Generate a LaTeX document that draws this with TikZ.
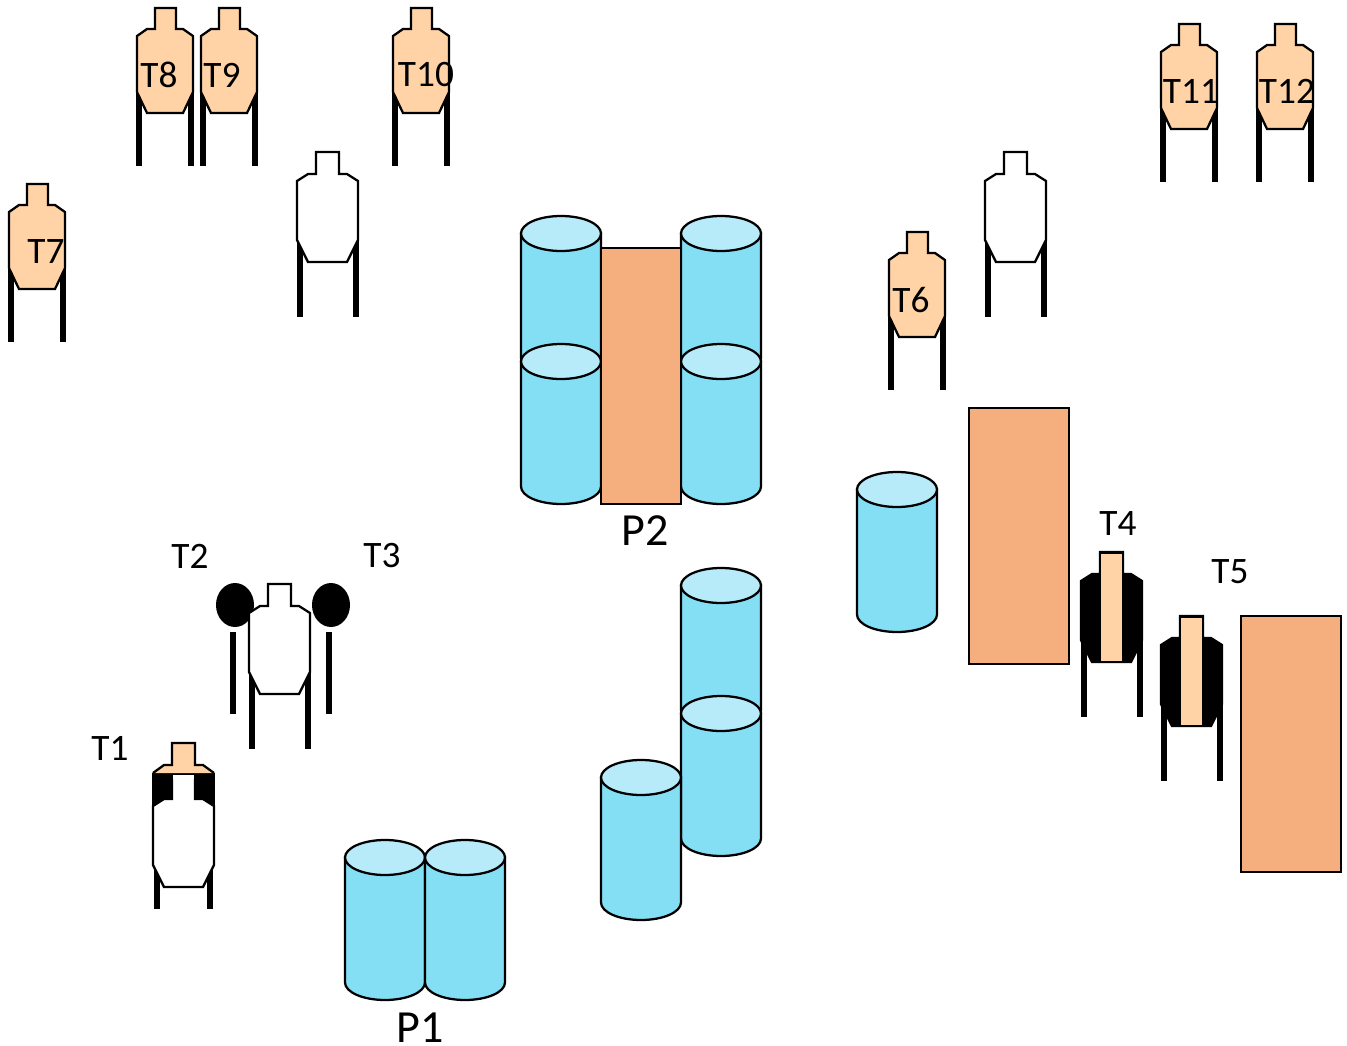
\documentclass[tikz,border=0pt]{standalone}
\usepackage{fontspec}
\setmainfont{Carlito}
\definecolor{skin}{HTML}{FFD3A6}
\definecolor{drum}{HTML}{84DFF5}
\definecolor{drumtop}{HTML}{B8EBFA}
\definecolor{wall}{HTML}{F5AE7E}
\tikzset{
  outline/.style={draw=black,line width=1.7pt,line join=miter},
  leg/.style={draw=black,line width=4.5pt},
  wallbox/.style={outline,fill=wall,inner sep=0pt,outer sep=0pt,anchor=north west},
  lab/.style={inner sep=0pt,font=\fontsize{28}{30}\selectfont,text=black},
  biglab/.style={inner sep=0pt,font=\fontsize{34.5}{38}\selectfont,text=black},
}
% small silhouette path, origin at left/top
\newcommand{\smallsil}{(18,0)--(39,0)--(39,21)--(46,21)--(56,28)--(56,84)--(46,105)--(10,105)--(0,84)--(0,28)--(10,21)--(18,21)--cycle}
\newcommand{\largesil}{(19,0)--(42,0)--(42,22)--(50,22)--(61,29)--(61,88)--(50,110)--(11,110)--(0,88)--(0,29)--(11,22)--(19,22)--cycle}
\newcommand{\smalltarget}[2]{\begin{scope}[shift={(#1,#2)}]
  \draw[leg] (2,82)--(2,158); \draw[leg] (54,82)--(54,158);
  \path[outline,fill=skin] \smallsil;
\end{scope}}
\newcommand{\largelegs}{\draw[leg] (2.5,84)--(2.5,165); \draw[leg] (59,84)--(59,165);}
\newcommand{\whitetarget}[2]{\begin{scope}[shift={(#1,#2)}]
  \largelegs
  \path[outline,fill=white] \largesil;
\end{scope}}
\newcommand{\edgetarget}[2]{\begin{scope}[shift={(#1,#2)}]
  \largelegs
  \path[outline,fill=black] \largesil;
  \path[fill=skin] (20,2) rectangle (41,109);
  \draw[line width=1.7pt] (19,22)--(19,0)--(42,0)--(42,22);
\end{scope}}
\newcommand{\drumshape}[2]{\begin{scope}[shift={(#1,#2)}]
  \path[outline,fill=drum] (0,17.5)--(0,142.5) arc[start angle=180,end angle=360,x radius=40,y radius=-17.5]--(80,17.5)--cycle;
  \path[outline,fill=drumtop] (40,17.5) ellipse[x radius=40,y radius=17.5];
\end{scope}}
\begin{document}
\begin{tikzpicture}[x=0.75pt,y=-0.75pt]
\useasboundingbox (0,0) rectangle (1347,1046);
% drums
\drumshape{521}{216}\drumshape{681}{216}\drumshape{521}{344}\drumshape{681}{344}
\drumshape{857}{472}\drumshape{681}{568}\drumshape{681}{696}\drumshape{601}{760}
\drumshape{345}{840}\drumshape{425}{840}
% walls
\node[wallbox,minimum width=60pt,minimum height=192pt] (wallA) at (601,248) {};
\node[wallbox,minimum width=75pt,minimum height=192pt] (wallB) at (969,408) {};
\node[wallbox,minimum width=75pt,minimum height=192pt] (wallC) at (1241,616) {};
% orange targets
\smalltarget{137}{8}\smalltarget{201}{8}\smalltarget{393}{8}\smalltarget{9}{184}
\smalltarget{889}{232}\smalltarget{1161}{24}\smalltarget{1257}{24}
% white no-shoots
\whitetarget{297}{152}\whitetarget{985}{152}
% T2 / T3 poppers
\draw[leg] (233,632)--(233,714);
\draw[leg] (329,632)--(329,714);
\fill[black] (235,605) ellipse[x radius=19,y radius=22];
\fill[black] (331,605) ellipse[x radius=19,y radius=22];
\whitetarget{249}{584}
% T1 partly hidden by a no-shoot
\begin{scope}[shift={(153,743)}]
  \path[fill=black] (-1,30) rectangle (62,68);
  \path[fill=skin] (19,0)--(42,0)--(42,22)--(50,22)--(61,30)--(0,30)--(11,22)--(19,22)--cycle;
  \draw[line width=1.7pt,line join=miter] (0,30)--(11,22)--(19,22)--(19,0)--(42,0)--(42,22)--(50,22)--(61,30);
\end{scope}
\begin{scope}[shift={(153,777)}]
  \draw[leg] (4,84)--(4,132); \draw[leg] (57,84)--(57,132);
  \path[outline,fill=white] \largesil;
  \path[fill=white] (20,-2.5) rectangle (41,2);
\end{scope}
% T4 / T5 hard cover
\edgetarget{1081}{552}\edgetarget{1161}{616}
% labels
\node[lab] (t8) at (159,75) {T8};
\node[lab] (t9) at (222,75) {T9};
\node[lab] (t10) at (426,75) {T10};
\node[lab] (t7) at (46,252) {T7};
\node[lab] (t6) at (911,300) {T6};
\node[lab] (t11) at (1191,91) {T11};
\node[lab] (t12) at (1287,91) {T12};
\node[lab] (t2) at (190,556) {T2};
\node[lab] (t3) at (382,556) {T3};
\node[lab] (t1) at (110,748) {T1};
\node[lab] (t4) at (1118,524) {T4};
\node[lab] (t5) at (1230,572) {T5};
\node[biglab] (p2) at (645,531) {P2};
\node[biglab] (p1) at (420,1028) {P1};
\end{tikzpicture}
\end{document}
